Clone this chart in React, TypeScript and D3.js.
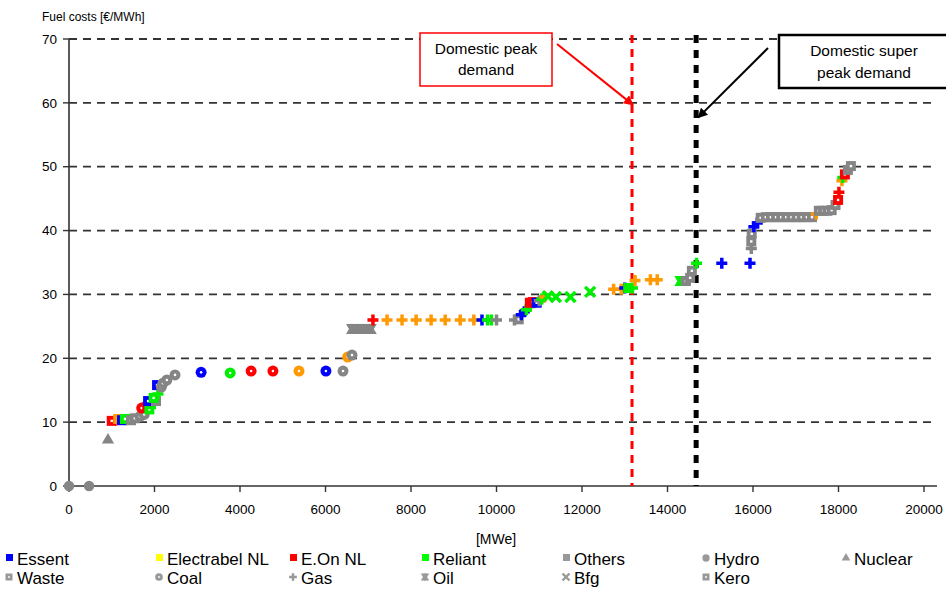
import React from "react";
import * as d3 from "d3";

const capacityMW = [
  0, 470, 912,
  1000, 1150, 1240, 1310, 1450, 1540, 1660, 1760, 1700, 1830, 1880, 1920, 1850, 2035, 1980, 2080, 2060, 2160, 2200, 2290, 2480,
  3090, 3770, 4260, 4770, 5380, 6010, 6410, 6520, 6620,
  6620, 6740, 6860, 6980, 7060,
  7110, 7440, 7790, 8120, 8470, 8800, 9150, 9470, 9660, 9790, 9880, 10000, 10420, 10520,
  10580, 10650, 10700, 10780, 10780, 10850, 10940, 11000, 11060, 11130, 11200, 11390, 11730, 12190,
  12740, 12920, 13000, 13080, 13180, 13240, 13600, 13760, 14300, 14430, 14530, 14570, 14680, 15270, 15930,
  15960, 15960, 15970, 16020, 16100, 16180,
  16300, 16420, 16540, 16660, 16780, 16900, 17020, 17140, 17260, 17380,
  17480, 17540, 17640, 17740, 17840, 17930, 17990, 18010, 18080, 18100, 18150, 18220, 18290,
];
const fuelCost = [
  0, 0, 7.2,
  10.2, 10.5, 10.3, 10.5, 10.3, 10.6, 10.9, 11.2, 12.2, 12.4, 12.0, 12.8, 13.3, 13.3, 13.8, 14.4, 15.8, 15.5, 16.1, 16.6, 17.4,
  17.8, 17.7, 18.0, 18.0, 18.0, 18.0, 18.0, 20.2, 20.5,
  24.6, 24.6, 24.6, 24.6, 24.6,
  26.0, 26.0, 26.0, 26.0, 26.0, 26.0, 26.0, 26.0, 26.0, 26.0, 26.0, 26.0, 26.0, 26.1,
  26.8, 27.3, 27.6, 28.1, 28.7, 28.8, 28.7, 29.0, 29.3, 29.6, 29.7, 29.6, 29.6, 30.4,
  30.8, 30.8, 31.0, 31.0, 31.0, 32.2, 32.3, 32.3, 32.1, 32.1, 32.6, 33.7, 34.9, 34.9, 34.9,
  37.2, 38.3, 39.5, 40.6, 41.2, 42.0,
  42.1, 42.1, 42.1, 42.1, 42.1, 42.1, 42.1, 42.1, 42.1, 42.1,
  42.6, 43.1, 43.1, 43.1, 43.2, 44.0, 44.8, 46.0, 47.8, 48.3, 48.8, 49.5, 50.1,
];
const owner = [
  "Others", "Others", "Others",
  "E.On NL", "Electrabel NL", "Essent", "Reliant", "Others", "Others", "Others", "Others", "E.On NL", "E.On NL", "Reliant", "Reliant", "Essent", "Others", "Reliant", "Reliant", "Essent", "Others", "Others", "Others", "Others",
  "Essent", "Reliant", "E.On NL", "E.On NL", "Electrabel NL", "Essent", "Others", "Electrabel NL", "Others",
  "Others", "Others", "Others", "Others", "Others",
  "E.On NL", "Electrabel NL", "Electrabel NL", "Electrabel NL", "Electrabel NL", "Electrabel NL", "Electrabel NL", "Electrabel NL", "Essent", "Reliant", "Reliant", "Others", "Others", "Others",
  "Essent", "Essent", "Reliant", "Reliant", "E.On NL", "E.On NL", "Essent", "Others", "Reliant", "Electrabel NL", "Reliant", "Reliant", "Reliant", "Reliant",
  "Electrabel NL", "Electrabel NL", "Essent", "Reliant", "Reliant", "Electrabel NL", "Electrabel NL", "Electrabel NL", "Reliant", "Others", "Others", "Others", "Reliant", "Essent", "Essent",
  "Others", "Others", "Others", "Essent", "Essent", "Others",
  "Others", "Others", "Others", "Others", "Others", "Others", "Others", "Others", "Others", "Others",
  "Electrabel NL", "Others", "Others", "Others", "Others", "Others", "E.On NL", "E.On NL", "Electrabel NL", "Reliant", "E.On NL", "Others", "Others",
];
const fuel = [
  "Hydro", "Hydro", "Nuclear",
  "Waste", "Waste", "Waste", "Waste", "Waste", "Waste", "Coal", "Coal", "Coal", "Waste", "Waste", "Waste", "Waste", "Waste", "Waste", "Gas", "Waste", "Coal", "Coal", "Coal", "Coal",
  "Coal", "Coal", "Coal", "Coal", "Coal", "Coal", "Coal", "Coal", "Coal",
  "Oil", "Oil", "Oil", "Oil", "Oil",
  "Gas", "Gas", "Gas", "Gas", "Gas", "Gas", "Gas", "Gas", "Gas", "Gas", "Gas", "Gas", "Gas", "Kero",
  "Gas", "Gas", "Gas", "Gas", "Waste", "Waste", "Waste", "Gas", "Gas", "Gas", "Bfg", "Bfg", "Bfg", "Bfg",
  "Gas", "Gas", "Gas", "Waste", "Gas", "Gas", "Gas", "Gas", "Oil", "Kero", "Kero", "Kero", "Gas", "Gas", "Gas",
  "Gas", "Kero", "Kero", "Gas", "Gas", "Kero",
  "Kero", "Kero", "Kero", "Kero", "Kero", "Kero", "Kero", "Kero", "Kero", "Kero",
  "Gas", "Kero", "Kero", "Kero", "Kero", "Kero", "Waste", "Gas", "Gas", "Gas", "Waste", "Kero", "Kero",
];

const xTicks = [0, 2000, 4000, 6000, 8000, 10000, 12000, 14000, 16000, 18000, 20000];
const yTicks = [0, 10, 20, 30, 40, 50, 60, 70];
const owners = ["Essent", "Electrabel NL", "E.On NL", "Reliant", "Others"];
const fuelsRow1 = ["Hydro", "Nuclear"];
const fuelsRow2 = ["Waste", "Coal", "Gas", "Oil", "Bfg", "Kero"];
const peakDemand = 13170;
const superPeakDemand = 14670;

const ownerColor: Record<string, string> = {
  Essent: "#0000ff",
  "Electrabel NL": "#ff9900",
  "E.On NL": "#ff0000",
  Reliant: "#00ee00",
  Others: "#858585",
};
const legendColor: Record<string, string> = { ...ownerColor, "Electrabel NL": "#ffff00", Reliant: "#00ff00", Others: "#999999" };

function Marker({ f, c, s = 1 }: { f: string; c: string; s?: number }) {
  switch (f) {
    case "Hydro":
      return <path d={d3.symbol(d3.symbolCircle, 85 * s * s)()!} fill={c} />;
    case "Nuclear":
      return <path d={d3.symbol(d3.symbolTriangle, 65 * s * s)()!} fill={c} />;
    case "Waste":
    case "Kero":
      return (
        <g>
          <rect x={-5 * s} y={-5 * s} width={10 * s} height={10 * s} fill={c} />
          <rect x={-1.2 * s} y={-1.2 * s} width={2.4 * s} height={2.4 * s} fill="#fff" />
        </g>
      );
    case "Coal":
      return (
        <g>
          <circle r={5.5 * s} fill={c} />
          <circle r={1.3 * s} fill="#fff" />
        </g>
      );
    case "Gas":
      return (
        <path d={`M${-5.5 * s},0H${5.5 * s}M0,${-5.5 * s}V${5.5 * s}`} stroke={c} strokeWidth={3.5 * s} fill="none" />
      );
    case "Bfg":
      return (
        <path d={`M${-5 * s},${-5 * s}L${5 * s},${5 * s}M${5 * s},${-5 * s}L${-5 * s},${5 * s}`} stroke={c} strokeWidth={3.5 * s} fill="none" />
      );
    case "Oil":
      return (
        <g>
          <path d={`M${-6 * s},${-5 * s}H${6 * s}L${3 * s},0L${6 * s},${5 * s}H${-6 * s}L${-3 * s},0Z`} fill={c} />
          <rect x={-2 * s} y={-5 * s} width={4 * s} height={10 * s} fill={c} />
        </g>
      );
    default:
      return null;
  }
}

export default function App() {
  const x = d3.scaleLinear().domain([0, 20000]).range([69, 924]);
  const y = d3.scaleLinear().domain([0, 70]).range([486, 39]);
  const font = "'Liberation Sans', Arial, sans-serif";
  const legendX1 = [6, 156, 290, 422, 563, 703, 843];
  const legendX2 = [6, 156, 290, 422, 563, 703];

  return (
    <svg width={946} height={590} style={{ position: "absolute", left: 0, top: 0, background: "#fff" }} fontFamily={font}>
      <defs>
        <marker id="arR" viewBox="0 0 10 10" refX="9" refY="5" markerWidth="5" markerHeight="5" orient="auto">
          <path d="M0,0L10,5L0,10Z" fill="#ff0000" />
        </marker>
        <marker id="arK" viewBox="0 0 10 10" refX="9" refY="5" markerWidth="5" markerHeight="5" orient="auto">
          <path d="M0,0L10,5L0,10Z" fill="#000" />
        </marker>
      </defs>
      {yTicks.filter((t) => t > 0).map((t) => (
        <line key={t} x1={69} x2={937} y1={y(t)} y2={y(t)} stroke="#333" strokeWidth={1.8} strokeDasharray="8,6" />
      ))}
      <line x1={69} x2={937} y1={y(0)} y2={y(0)} stroke="#333" strokeWidth={1.6} />
      <line x1={69} x2={69} y1={y(70)} y2={y(0)} stroke="#333" strokeWidth={1.6} />
      {yTicks.map((t) => (
        <g key={t}>
          <line x1={63} x2={69} y1={y(t)} y2={y(t)} stroke="#333" strokeWidth={1.4} />
          <text x={57} y={y(t)} dy="0.35em" textAnchor="end" fontSize={13.5}>{t}</text>
        </g>
      ))}
      {xTicks.map((t) => (
        <g key={t}>
          <line x1={x(t)} x2={x(t)} y1={y(0)} y2={y(0) + 6} stroke="#333" strokeWidth={1.4} />
          <text x={x(t)} y={514} textAnchor="middle" fontSize={13.5}>{t}</text>
        </g>
      ))}
      <text x={42} y={21} fontSize={12}>Fuel costs [€/MWh]</text>
      <text x={496} y={544} textAnchor="middle" fontSize={14}>[MWe]</text>

      <line x1={x(peakDemand)} x2={x(peakDemand)} y1={y(70) - 4} y2={y(0)} stroke="#ff0000" strokeWidth={3} strokeDasharray="8,6" />
      <line x1={x(superPeakDemand)} x2={x(superPeakDemand)} y1={y(70) - 4} y2={y(0)} stroke="#000" strokeWidth={5} strokeDasharray="8,7" />

      {capacityMW.map((v, i) => (
        <g key={i} transform={`translate(${x(v)},${y(fuelCost[i])})`}>
          <Marker f={fuel[i]} c={ownerColor[owner[i]]} />
        </g>
      ))}

      <line x1={557} y1={44} x2={x(peakDemand) + 1} y2={y(60) + 2} stroke="#ff0000" strokeWidth={2} markerEnd="url(#arR)" />
      <rect x={420} y={33} width={132} height={53} fill="#fff" stroke="#ff0000" strokeWidth={1.5} />
      <text x={486} y={54} textAnchor="middle" fontSize={15.5}>Domestic peak</text>
      <text x={486} y={75} textAnchor="middle" fontSize={15.5}>demand</text>

      <line x1={768} y1={48} x2={x(superPeakDemand) + 2} y2={y(58) + 2} stroke="#000" strokeWidth={2} markerEnd="url(#arK)" />
      <rect x={779} y={35} width={170} height={53} fill="#fff" stroke="#000" strokeWidth={2.5} />
      <text x={864} y={56} textAnchor="middle" fontSize={15.5}>Domestic super</text>
      <text x={864} y={78} textAnchor="middle" fontSize={15.5}>peak demand</text>

      {owners.map((o, i) => (
        <g key={o}>
          <rect x={legendX1[i]} y={554} width={7} height={7} fill={legendColor[o]} />
          <text x={legendX1[i] + 11} y={565} fontSize={17}>{o}</text>
        </g>
      ))}
      {fuelsRow1.map((f, i) => (
        <g key={f}>
          <g transform={`translate(${legendX1[5 + i] + 3},558)`}>
            <Marker f={f} c="#999" s={0.7} />
          </g>
          <text x={legendX1[5 + i] + 11} y={565} fontSize={17}>{f}</text>
        </g>
      ))}
      {fuelsRow2.map((f, i) => (
        <g key={f}>
          <g transform={`translate(${legendX2[i] + 3},577)`}>
            <Marker f={f} c="#999" s={0.7} />
          </g>
          <text x={legendX2[i] + 11} y={584} fontSize={17}>{f}</text>
        </g>
      ))}
    </svg>
  );
}
